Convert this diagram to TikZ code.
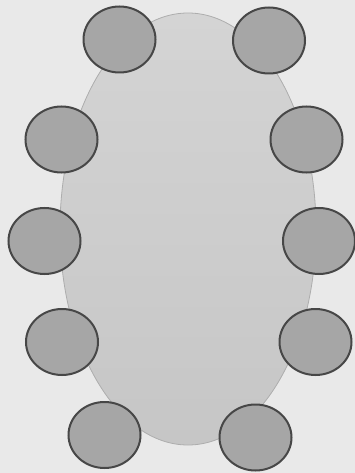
\documentclass[tikz,border=0pt]{standalone}
\usetikzlibrary{shapes.geometric}
\definecolor{bgc}{HTML}{E9E9E9}
\definecolor{tabletop}{HTML}{D4D4D4}
\definecolor{tablebot}{HTML}{C6C6C6}
\definecolor{tableline}{HTML}{ADADAD}
\definecolor{chairfill}{HTML}{A6A6A6}
\definecolor{chairline}{HTML}{474747}
\tikzset{
  tablebox/.style={ellipse, inner sep=0pt, minimum width=256pt, minimum height=432pt,
    draw=tableline, line width=0.8pt, top color=tabletop, bottom color=tablebot},
  chair/.style={ellipse, inner sep=0pt, minimum width=72pt, minimum height=66pt,
    draw=chairline, line width=2pt, fill=chairfill}
}
\begin{document}
\begin{tikzpicture}[x=1pt,y=-1pt]
\fill[bgc] (0,0) rectangle (355,473);
\useasboundingbox (0,0) rectangle (355,473);
\node[tablebox] (table) at (188,229) {};
\node[chair] (c1) at (119.5,39.5) {};
\node[chair] (c2) at (269,40.5) {};
\node[chair] (c3) at (61.5,139.5) {};
\node[chair] (c4) at (306.5,139.5) {};
\node[chair] (c5) at (44.5,241) {};
\node[chair] (c6) at (319,241) {};
\node[chair] (c7) at (62,342) {};
\node[chair] (c8) at (315.5,342) {};
\node[chair] (c9) at (104.5,435) {};
\node[chair] (c10) at (255.5,437.5) {};
\end{tikzpicture}
\end{document}
